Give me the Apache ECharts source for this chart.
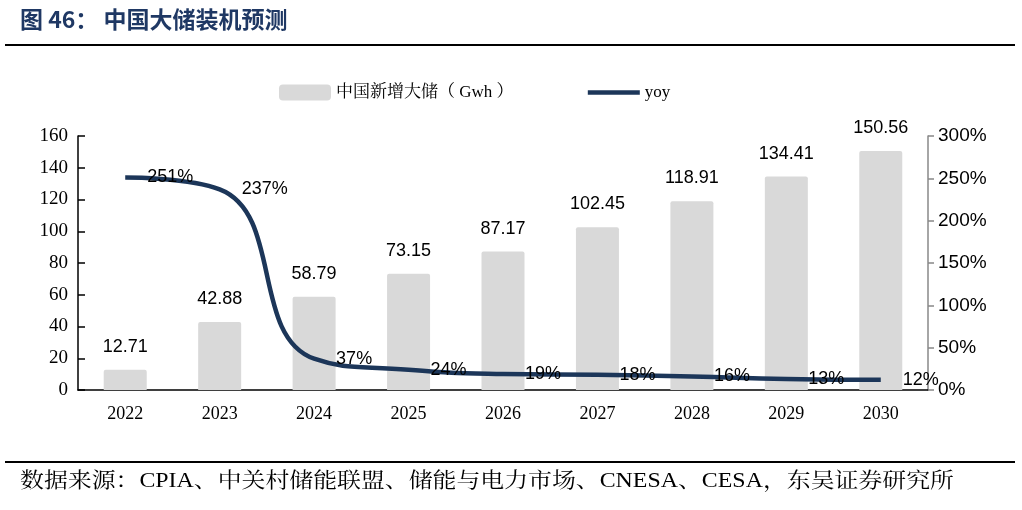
<!DOCTYPE html>
<html><head><meta charset="utf-8">
<script src="https://cdn.jsdelivr.net/npm/echarts@6/dist/echarts.min.js"></script>
<style>html,body{margin:0;padding:0;background:#fff}#c{width:1022px;height:510px}</style>
</head><body><div id="c"></div>
<script>
const categories = ['2022','2023','2024','2025','2026','2027','2028','2029','2030'];
const installs = [12.71, 42.88, 58.79, 73.15, 87.17, 102.45, 118.91, 134.41, 150.56];
const yoy = [251, 237, 37, 24, 19, 18, 16, 13, 12];
const barName = '中国新增大储（ Gwh ）';
const lineName = 'yoy';
const titleText = '图 46： 中国大储装机预测';
const sourceText = '数据来源：CPIA、中关村储能联盟、储能与电力市场、CNESA、CESA，东吴证券研究所';

const serif = '"Liberation Serif","Times New Roman","Noto Serif CJK SC","Noto Sans CJK SC",serif';
const sans = '"Liberation Sans",Arial,"Noto Sans CJK SC",sans-serif';
const navy = '#1c3659';

const chart = echarts.init(document.getElementById('c'));
chart.setOption({
  animation: false,
  backgroundColor: '#fff',
  graphic: [
    {type:'text', left: 20, top: 8, style:{text: titleText, font: 'bold 23px "Noto Sans CJK SC", sans-serif', fill: '#1f3864'}},
    {type:'rect', shape:{x:5, y:44, width:1010, height:2}, style:{fill:'#000'}},
    {type:'rect', shape:{x:5, y:461, width:1010, height:2}, style:{fill:'#000'}},
    {type:'text', x: 20, y: 471, scaleX: 1.137, originX: 0,
     style:{text: sourceText, font: '21px ' + serif, fill: '#000'}}
  ],
  legend: {
    top: 79, left: 274, itemGap: 72, itemWidth: 52, itemHeight: 16,
    textStyle: {fontFamily: serif, fontSize: 17, color: '#000'},
    data: [
      {name: barName, icon: 'roundRect'},
      {name: lineName, itemStyle: {color: 'rgba(0,0,0,0)', borderWidth: 0},
       lineStyle: {width: 4.5, color: navy}}
    ]
  },
  grid: {left: 78, right: 94, top: 136, bottom: 120},
  xAxis: {
    type: 'category', data: categories,
    axisLine: {lineStyle: {color: '#000', width: 1.5}},
    axisTick: {inside: true, length: 7, lineStyle:{color:'#000', width:1.5}},
    axisLabel: {fontFamily: serif, fontSize: 18, color: '#000', margin: 15}
  },
  yAxis: [
    {type: 'value', min: 0, max: 160, interval: 20,
     axisLine: {show: true, lineStyle: {color: '#000', width: 1.5}},
     axisTick: {show: true, inside: true, length: 7, lineStyle:{color:'#000', width:1.5}},
     splitLine: {show: false},
     axisLabel: {fontFamily: serif, fontSize: 19, color: '#000', margin: 10}},
    {type: 'value', min: 0, max: 300, interval: 50,
     axisLine: {show: true, lineStyle: {color: '#888', width: 1.5}},
     axisTick: {show: true, length: 6, lineStyle:{color:'#888', width:1.5}},
     splitLine: {show: false},
     axisLabel: {fontFamily: sans, fontSize: 19, color: '#000', margin: 10, formatter: '{value}%'}}
  ],
  series: [
    {name: barName, type: 'bar', data: installs, barWidth: 43,
     itemStyle: {color: '#d9d9d9', borderRadius: [2,2,0,0]},
     label: {show: true, position: 'top', distance: 14, fontFamily: sans, fontSize: 18, color: '#000'}},
    {name: lineName, type: 'line', yAxisIndex: 1, data: yoy, smooth: 0.5,
     symbol: 'circle', symbolSize: 0, showSymbol: true, z: 5,
     lineStyle: {color: navy, width: 4.5}, itemStyle: {color: navy},
     label: {show: true, position: 'right', distance: 22, fontFamily: sans, fontSize: 18,
             color: '#000', opacity: 1, textBorderWidth: 0, formatter: '{c}%'}}
  ]
});
</script></body></html>
